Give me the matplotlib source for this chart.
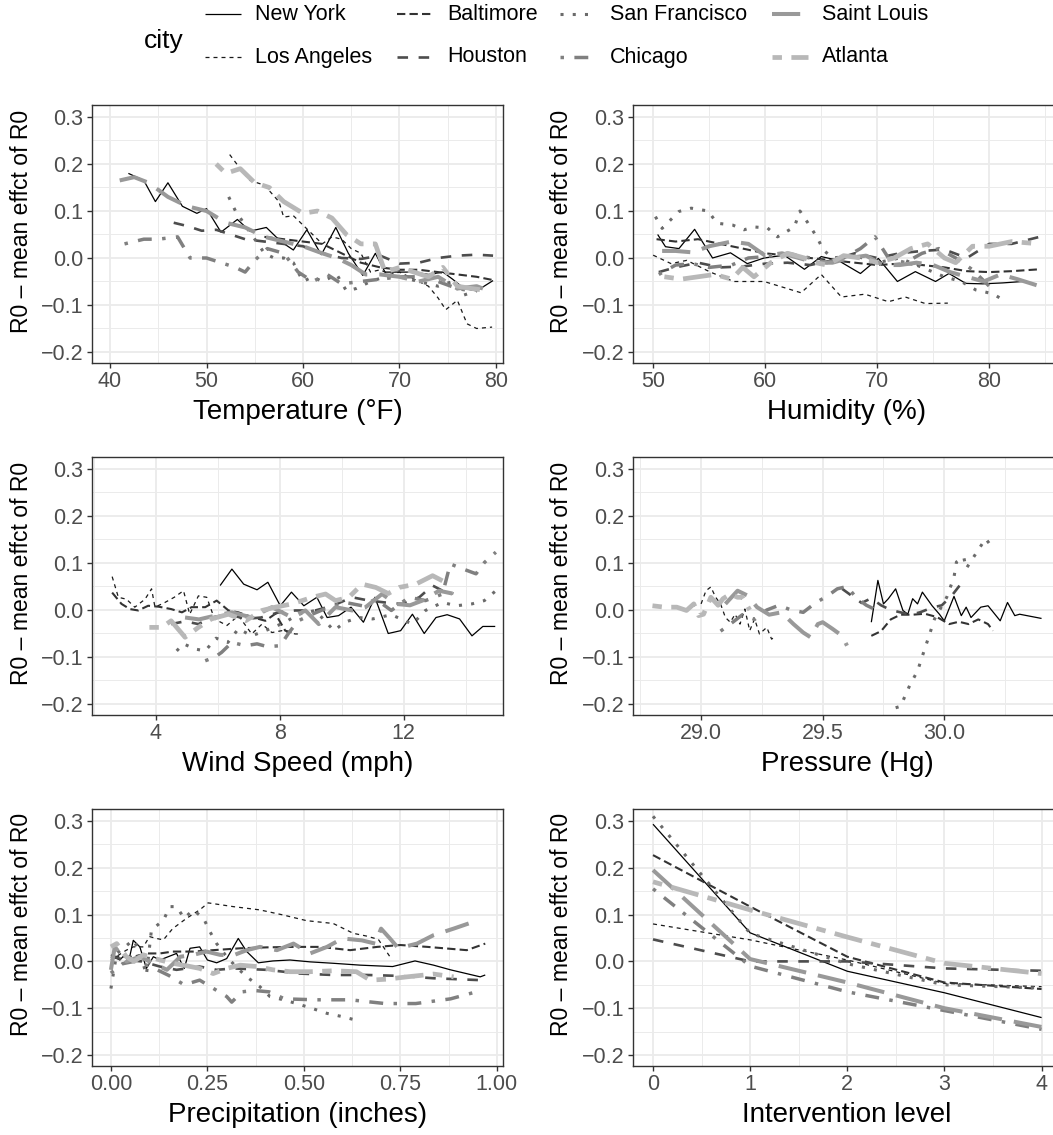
import matplotlib
matplotlib.use("Agg")
import matplotlib.pyplot as plt

plt.rcParams['font.family'] = ['Liberation Sans', 'DejaVu Sans']

# ---------------- data ----------------
cities = ["New York", "Los Angeles", "Baltimore", "Houston",
          "San Francisco", "Chicago", "Saint Louis", "Atlanta"]

# Temperature (°F)
temp_ny = [(41.9,0.18),(43.5,0.165),(44.7,0.12),(46.0,0.16),(47.5,0.11),(49.0,0.095),(50.0,0.105),(51.5,0.055),(53.2,0.082),(54.5,0.057),(56.2,0.065),(57.7,0.035),(59.0,0.017),(60.4,0.06),(61.9,0.007),(63.4,0.065),(64.7,0.01),(66.2,-0.037),(67.5,0.01),(68.5,-0.03),(70.0,-0.03),(71.5,-0.03),(73.0,-0.035),(74.5,-0.03),(75.5,-0.045),(76.7,-0.065),(78.0,-0.07),(79.7,-0.048)]
temp_la = [(52.4,0.22),(53.5,0.19),(54.5,0.165),(56.0,0.155),(57.5,0.12),(58.0,0.087),(59.0,0.09),(60.0,0.07),(61.0,0.05),(62.0,0.03),(63.0,0.045),(64.0,0.04),(65.0,0.02),(66.0,0.01),(67.0,-0.03),(68.0,-0.025),(69.0,-0.035),(70.0,-0.03),(71.0,-0.04),(72.0,-0.05),(73.0,-0.06),(74.0,-0.085),(74.8,-0.11),(76.0,-0.09),(77.0,-0.14),(78.0,-0.15),(79.6,-0.147)]
temp_baltimore = [(56.0,0.045),(58.0,0.04),(60.0,0.035),(62.0,0.03),(64.0,0.01),(66.0,-0.01),(68.0,-0.02),(70.0,-0.025),(72.0,-0.025),(74.0,-0.03),(76.0,-0.035),(78.0,-0.04),(79.7,-0.047)]
temp_houston = [(46.6,0.075),(48.0,0.068),(49.5,0.058),(51.0,0.06),(52.5,0.05),(54.0,0.04),(56.0,0.035),(58.0,0.03),(60.0,0.025),(62.0,0.01),(64.0,0.0),(66.0,-0.002),(68.0,0.005),(70.0,-0.012),(72.0,-0.01),(74.0,0.0),(76.0,0.005),(78.0,0.007),(79.7,0.005)]
temp_sf = [(52.3,0.13),(53.0,0.1),(54.0,0.07),(55.0,0.04),(56.0,0.01),(57.0,0.0),(58.0,0.0),(59.0,-0.01),(60.0,-0.05),(61.0,-0.04),(62.0,-0.05),(63.5,-0.035),(64.5,-0.07),(65.5,-0.065),(67.0,-0.05),(68.5,-0.04),(70.0,-0.04),(72.0,-0.05),(74.0,-0.06),(75.5,-0.05),(76.5,-0.08),(78.0,-0.07)]
temp_chicago = [(41.5,0.03),(43.5,0.04),(45.0,0.04),(47.0,0.045),(48.3,0.0),(50.0,0.0),(51.5,-0.01),(53.0,-0.02),(54.0,-0.03),(55.0,-0.005),(56.3,0.02),(58.0,0.01),(59.5,-0.03),(61.0,-0.05),(62.5,-0.035),(64.0,-0.055),(66.0,-0.05),(68.0,-0.045),(70.0,-0.04),(72.0,-0.04),(74.0,-0.05),(76.0,-0.065),(77.5,-0.07)]
temp_stl = [(41.0,0.165),(42.5,0.172),(44.0,0.16),(46.0,0.13),(48.0,0.11),(50.0,0.1),(52.0,0.075),(54.0,0.065),(56.0,0.045),(58.0,0.035),(60.0,0.025),(62.0,0.01),(63.5,0.0),(65.0,-0.015),(66.5,-0.035),(68.0,-0.035),(70.0,-0.04),(72.0,-0.05),(74.0,-0.04),(76.0,-0.065),(78.0,-0.06),(79.3,-0.07)]
temp_atlanta = [(51.0,0.2),(52.0,0.18),(53.5,0.19),(55.0,0.16),(56.5,0.15),(58.0,0.12),(60.0,0.095),(61.5,0.1),(63.0,0.085),(64.5,0.05),(66.0,0.03),(67.5,0.03),(68.5,-0.03),(70.0,-0.02),(71.5,-0.03),(73.0,-0.04),(74.5,-0.02),(76.0,-0.06),(77.5,-0.065),(79.3,-0.07)]

# Humidity (%)
hum_ny = [(50.4,0.05),(51.1,0.024),(52.3,0.02),(53.7,0.061),(55.3,0.0),(56.9,0.011),(58.4,-0.012),(59.9,0.0),(61.7,0.006),(63.5,-0.024),(65.0,0.003),(66.5,-0.005),(68.5,-0.033),(70.1,-0.001),(71.8,-0.05),(73.4,-0.029),(75.2,-0.05),(76.4,-0.033),(77.9,-0.054),(79.4,-0.055),(81.2,-0.053),(83.0,-0.05)]
hum_la = [(50.0,0.006),(51.6,-0.012),(53.0,-0.005),(55.1,-0.03),(57.2,-0.05),(59.9,-0.05),(63.2,-0.074),(65.0,-0.035),(66.8,-0.083),(68.9,-0.077),(71.0,-0.093),(72.5,-0.083),(74.3,-0.097),(76.3,-0.096)]
hum_baltimore = [(50.3,0.04),(52.0,0.035),(54.0,0.04),(56.0,0.03),(58.0,0.02),(60.0,0.01),(62.0,0.005),(64.0,0.0),(66.0,-0.005),(68.0,-0.01),(70.0,-0.015),(72.0,-0.012),(74.0,-0.015),(76.0,-0.02),(78.0,-0.028),(80.0,-0.03),(82.0,-0.028),(84.5,-0.024)]
hum_houston = [(50.5,-0.03),(52.0,-0.02),(54.0,-0.01),(56.0,-0.02),(58.0,-0.018),(60.0,-0.012),(62.0,-0.01),(64.0,-0.015),(66.0,-0.005),(68.0,0.01),(70.0,0.0),(72.0,0.01),(74.0,0.015),(76.0,0.018),(78.0,0.0),(80.0,0.03),(82.0,0.03),(84.5,0.045)]
hum_sf = [(50.2,0.088),(50.8,0.063),(52.3,0.099),(53.4,0.106),(54.9,0.1),(55.7,0.074),(57.1,0.07),(58.1,0.06),(59.0,0.066),(60.2,0.064),(61.1,0.045),(62.6,0.066),(63.1,0.1),(63.8,0.075),(64.6,0.045),(65.2,0.017),(66.0,0.0),(68.0,0.005),(70.0,-0.01),(72.0,0.0),(74.0,-0.02),(76.0,-0.04),(77.5,-0.05),(78.8,-0.068),(80.3,-0.076),(81.3,-0.09)]
hum_chicago = [(50.5,-0.035),(52.0,-0.015),(53.5,-0.012),(55.0,-0.02),(57.0,-0.015),(58.5,0.0),(60.0,0.003),(62.0,0.01),(64.0,0.0),(65.5,-0.01),(67.0,0.0),(68.5,0.02),(69.8,0.045),(71.0,0.0),(72.5,-0.01),(74.0,0.01),(75.5,0.02),(77.0,0.0),(78.5,-0.025),(80.0,-0.06)]
hum_stl = [(50.8,0.015),(52.0,0.015),(53.5,0.012),(55.0,0.025),(57.0,0.035),(58.5,0.03),(60.0,0.005),(61.5,0.01),(63.0,0.0),(64.5,-0.01),(66.0,-0.01),(67.5,0.0),(69.0,0.005),(70.5,-0.015),(72.0,-0.015),(73.5,-0.01),(75.0,-0.015),(76.5,-0.03),(78.0,-0.04),(79.5,-0.05),(81.0,-0.035),(82.5,-0.045),(84.5,-0.06)]
hum_atlanta = [(51.0,-0.04),(52.5,-0.045),(54.0,-0.04),(55.5,-0.035),(57.0,-0.045),(58.0,-0.02),(59.0,-0.04),(60.5,-0.01),(62.0,0.01),(63.5,0.0),(64.5,-0.01),(65.5,-0.015),(67.0,0.005),(68.5,0.0),(70.0,-0.01),(71.5,0.0),(73.0,0.02),(74.5,0.03),(76.0,0.0),(77.0,-0.01),(78.5,0.025),(80.0,0.025),(82.0,0.035),(84.5,0.03)]

# Wind Speed (mph)
wind_ny = [(6.08,0.052),(6.46,0.087),(6.84,0.055),(7.27,0.043),(7.62,0.059),(8.02,0.009),(8.38,0.038),(8.78,0.009),(9.2,0.027),(9.53,-0.016),(9.9,-0.012),(10.3,0.006),(10.7,-0.026),(11.07,0.027),(11.5,-0.05),(11.9,-0.044),(12.28,-0.009),(12.66,-0.05),(13.04,-0.016),(13.4,-0.01),(13.8,-0.019),(14.2,-0.055),(14.55,-0.035),(14.95,-0.035)]
wind_la = [(2.6,0.071),(2.8,0.027),(3.06,0.023),(3.33,0.006),(3.66,0.023),(3.87,0.045),(3.98,0.006),(4.3,0.016),(4.6,0.027),(4.9,0.041),(5.1,-0.009),(5.38,0.03),(5.65,0.027),(5.9,-0.019),(6.3,-0.033),(6.67,-0.012),(7.1,-0.051),(7.43,-0.03),(7.75,-0.048),(8.07,-0.044),(8.5,-0.051),(8.67,-0.051)]
wind_baltimore = [(2.6,0.037),(2.9,0.013),(3.17,0.002),(3.44,-0.001),(3.76,0.009),(4.1,0.007),(4.5,0.002),(4.85,-0.005),(5.16,0.006),(5.6,0.006),(5.97,0.02),(6.35,-0.001),(6.67,-0.005),(7.1,-0.015),(7.54,-0.023),(7.86,-0.008),(8.18,-0.044),(8.4,-0.048)]
wind_houston = [(4.5,-0.03),(4.95,-0.024),(5.38,-0.03),(5.8,-0.016),(6.35,-0.009),(6.9,-0.019),(7.4,-0.016),(7.97,-0.005),(8.5,-0.001),(9.15,-0.001),(9.7,0.009),(10.34,0.027),(10.88,0.02),(11.4,0.016),(11.96,0.013),(12.5,0.027),(12.93,0.052),(13.25,0.041),(13.6,0.035)]
wind_sf = [(4.68,-0.087),(4.9,-0.072),(5.27,-0.083),(5.6,-0.087),(5.95,-0.06),(6.33,-0.069),(6.67,-0.04),(7.1,-0.055),(7.54,-0.044),(8.18,-0.026),(8.6,-0.009),(9.15,-0.001),(9.75,-0.044),(10.1,-0.026),(10.55,-0.016),(11.0,-0.019),(11.6,-0.01),(12.28,-0.03),(12.7,-0.001),(13.25,0.016),(13.7,0.009),(14.2,0.013),(14.6,0.02),(14.97,0.041)]
wind_chicago = [(5.6,-0.108),(5.92,-0.1),(6.13,-0.09),(6.46,-0.069),(6.9,-0.076),(7.27,-0.072),(7.6,-0.078),(8.02,-0.076),(8.3,-0.048),(8.6,-0.023),(9.05,-0.009),(9.58,0.006),(10.12,0.016),(10.66,0.009),(11.1,0.023),(11.6,-0.001),(12.17,0.027),(12.7,0.02),(13.25,0.034),(13.5,0.098),(13.8,0.09),(14.33,0.077),(14.6,0.101),(14.97,0.123)]
wind_stl = [(4.95,-0.016),(5.4,-0.02),(5.92,-0.012),(6.46,-0.005),(7.1,-0.016),(7.75,0.006),(8.4,-0.016),(8.83,-0.001),(9.26,-0.03),(9.8,0.006),(10.34,-0.001),(10.77,0.006),(11.3,0.034),(11.74,0.013),(12.2,0.01),(12.6,0.02),(13.14,0.041),(13.57,0.035)]
wind_atlanta = [(3.8,-0.037),(4.2,-0.037),(4.5,-0.023),(4.95,-0.058),(5.38,-0.037),(5.8,-0.019),(6.35,-0.009),(6.9,-0.023),(7.43,-0.001),(7.86,0.006),(8.4,0.013),(9.05,0.027),(9.48,0.034),(9.8,0.02),(10.23,0.027),(10.66,0.055),(11.1,0.048),(11.5,0.035),(11.85,0.048),(12.39,0.055),(12.93,0.073),(13.25,0.062)]

# Pressure (Hg)
pres_ny = [(29.70,-0.026),(29.727,0.063),(29.75,0.013),(29.77,0.024),(29.80,0.045),(29.83,-0.001),(29.85,-0.009),(29.87,0.024),(29.89,0.013),(29.91,0.038),(29.95,0.009),(29.98,-0.009),(30.0,-0.023),(30.04,0.029),(30.07,-0.012),(30.09,0.006),(30.11,-0.016),(30.15,0.006),(30.18,0.009),(30.23,-0.023),(30.26,0.016),(30.29,-0.012),(30.31,-0.009),(30.34,-0.012),(30.40,-0.018)]
pres_la = [(29.0,0.013),(29.02,0.041),(29.04,0.049),(29.06,0.027),(29.08,0.013),(29.10,-0.016),(29.12,-0.026),(29.14,-0.009),(29.16,-0.03),(29.18,0.002),(29.20,-0.044),(29.22,-0.019),(29.24,-0.051),(29.27,-0.037),(29.29,-0.062),(29.30,-0.058)]
pres_baltimore = [(29.70,-0.055),(29.74,-0.045),(29.78,-0.02),(29.82,-0.01),(29.87,-0.01),(29.92,-0.008),(29.97,-0.015),(30.02,-0.03),(30.06,-0.025),(30.10,-0.03),(30.14,-0.02),(30.18,-0.03),(30.20,-0.044)]
pres_houston = [(29.58,0.045),(29.62,0.03),(29.66,0.015),(29.70,0.025),(29.74,0.01),(29.78,0.0),(29.82,-0.005),(29.86,-0.01),(29.90,-0.005),(29.95,0.005),(29.99,0.01),(30.03,0.03),(30.06,0.05),(30.09,0.066)]
pres_sf = [(29.80,-0.208),(29.82,-0.205),(29.86,-0.158),(29.89,-0.13),(29.91,-0.098),(29.94,-0.051),(29.96,-0.019),(29.98,-0.001),(30.01,0.027),(30.04,0.07),(30.05,0.102),(30.08,0.113),(30.09,0.088),(30.13,0.12),(30.17,0.152),(30.19,0.138)]
pres_chicago = [(29.08,-0.045),(29.12,-0.03),(29.17,-0.01),(29.22,-0.02),(29.27,0.0),(29.32,0.01),(29.37,0.0),(29.42,-0.005),(29.47,0.015),(29.52,0.03),(29.56,0.045),(29.60,0.05),(29.64,0.025),(29.68,0.01),(29.72,0.0)]
pres_stl = [(29.10,0.013),(29.15,0.041),(29.19,0.031),(29.23,0.006),(29.28,-0.01),(29.33,-0.005),(29.38,-0.03),(29.42,-0.048),(29.45,-0.058),(29.48,-0.03),(29.50,-0.026),(29.54,-0.04),(29.58,-0.055),(29.60,-0.076)]
pres_atlanta = [(28.80,0.009),(28.85,0.006),(28.90,0.006),(28.94,-0.001),(28.97,0.013),(28.99,-0.012),(29.01,-0.009),(29.04,0.027),(29.07,0.01),(29.09,0.024),(29.12,0.034),(29.15,0.027),(29.17,0.027),(29.20,0.0)]

# Precipitation (inches)
prec_ny = [(0.0,0.014),(0.023,0.003),(0.036,0.014),(0.046,0.0),(0.058,0.045),(0.075,0.031),(0.092,-0.015),(0.11,0.01),(0.127,0.003),(0.17,0.017),(0.19,-0.015),(0.205,0.028),(0.23,0.031),(0.25,0.003),(0.274,-0.003),(0.30,0.006),(0.33,0.049),(0.352,0.021),(0.382,-0.003),(0.42,0.001),(0.464,0.003),(0.516,-0.001),(0.576,-0.004),(0.646,-0.008),(0.73,-0.011),(0.788,0.001),(0.836,-0.008),(0.88,-0.018),(0.957,-0.033),(0.97,-0.029)]
prec_la = [(0.0,0.003),(0.04,0.024),(0.058,0.031),(0.084,0.031),(0.10,0.053),(0.118,0.049),(0.136,0.046),(0.16,0.07),(0.196,0.092),(0.23,0.11),(0.252,0.125),(0.317,0.117),(0.386,0.11),(0.447,0.099),(0.507,0.087),(0.576,0.081),(0.628,0.06),(0.663,0.054),(0.693,0.047),(0.723,0.01),(0.73,0.006)]
prec_baltimore = [(0.0,0.01),(0.058,0.01),(0.092,0.017),(0.127,0.017),(0.16,0.021),(0.213,0.021),(0.265,0.024),(0.335,0.028),(0.404,0.03),(0.473,0.031),(0.542,0.031),(0.62,0.024),(0.69,0.031),(0.75,0.035),(0.82,0.031),(0.922,0.024),(0.97,0.038)]
prec_houston = [(0.0,0.01),(0.04,0.003),(0.08,0.0),(0.127,-0.011),(0.17,-0.018),(0.23,-0.011),(0.274,-0.018),(0.317,-0.015),(0.404,-0.018),(0.49,-0.026),(0.576,-0.029),(0.663,-0.029),(0.75,-0.031),(0.836,-0.036),(0.957,-0.04)]
prec_sf = [(0.0,-0.058),(0.015,0.017),(0.035,0.03),(0.058,0.046),(0.075,0.02),(0.092,-0.029),(0.105,0.067),(0.136,0.088),(0.153,0.117),(0.17,0.117),(0.19,0.092),(0.213,0.11),(0.24,0.092),(0.257,0.063),(0.274,0.038),(0.30,0.01),(0.325,-0.012),(0.352,-0.033),(0.386,-0.054),(0.412,-0.075),(0.447,-0.082),(0.481,-0.09),(0.52,-0.1),(0.56,-0.111),(0.60,-0.118),(0.633,-0.125)]
prec_chicago = [(0.0,-0.025),(0.03,-0.005),(0.06,0.0),(0.10,-0.01),(0.15,-0.03),(0.19,-0.05),(0.23,-0.04),(0.27,-0.06),(0.30,-0.075),(0.313,-0.087),(0.34,-0.065),(0.37,-0.062),(0.41,-0.065),(0.45,-0.08),(0.53,-0.082),(0.62,-0.082),(0.71,-0.09),(0.79,-0.09),(0.88,-0.08),(0.96,-0.062)]
prec_stl = [(0.0,-0.018),(0.01,0.031),(0.04,0.0),(0.075,0.01),(0.11,-0.004),(0.145,-0.018),(0.18,0.01),(0.213,0.014),(0.248,0.021),(0.283,0.014),(0.317,0.013),(0.352,0.024),(0.386,0.031),(0.43,0.024),(0.473,0.038),(0.516,0.017),(0.56,0.031),(0.60,0.049),(0.65,0.045),(0.685,0.038),(0.70,0.07),(0.723,0.049),(0.745,0.028),(0.793,0.038),(0.836,0.056),(0.888,0.07),(0.927,0.081)]
prec_atlanta = [(0.0,0.031),(0.015,0.038),(0.04,0.01),(0.06,0.0),(0.084,0.014),(0.127,0.003),(0.16,-0.004),(0.20,-0.01),(0.23,-0.015),(0.265,-0.026),(0.30,-0.015),(0.335,-0.008),(0.378,-0.011),(0.42,-0.018),(0.464,-0.022),(0.516,-0.022),(0.576,-0.02),(0.636,-0.022),(0.672,-0.04),(0.715,-0.038),(0.767,-0.033),(0.836,-0.027),(0.888,-0.033)]

# Intervention level
int_ny = [(0,0.293),(1,0.061),(2,-0.021),(3,-0.067),(4,-0.12)]
int_la = [(0,0.08),(1,0.046),(2,0.003),(3,-0.047),(4,-0.054)]
int_baltimore = [(0,0.227),(1,0.117),(2,0.01),(3,-0.045),(4,-0.059)]
int_houston = [(0,0.047),(1,0.0),(2,0.0),(3,-0.015),(4,-0.02)]
int_sf = [(0,0.31),(1,0.06),(2,-0.005),(3,-0.05),(4,-0.057)]
int_chicago = [(0,0.155),(1,-0.01),(2,-0.065),(3,-0.105),(4,-0.145)]
int_stl = [(0,0.195),(1,0.005),(2,-0.045),(3,-0.1),(4,-0.14)]
int_atlanta = [(0,0.17),(1,0.11),(2,0.052),(3,-0.004),(4,-0.026)]

panel_labels = ["Temperature (°F)", "Humidity (%)", "Wind Speed (mph)",
                "Pressure (Hg)", "Precipitation (inches)", "Intervention level"]
panel_series = [
    [temp_ny, temp_la, temp_baltimore, temp_houston, temp_sf, temp_chicago, temp_stl, temp_atlanta],
    [hum_ny, hum_la, hum_baltimore, hum_houston, hum_sf, hum_chicago, hum_stl, hum_atlanta],
    [wind_ny, wind_la, wind_baltimore, wind_houston, wind_sf, wind_chicago, wind_stl, wind_atlanta],
    [pres_ny, pres_la, pres_baltimore, pres_houston, pres_sf, pres_chicago, pres_stl, pres_atlanta],
    [prec_ny, prec_la, prec_baltimore, prec_houston, prec_sf, prec_chicago, prec_stl, prec_atlanta],
    [int_ny, int_la, int_baltimore, int_houston, int_sf, int_chicago, int_stl, int_atlanta],
]
panel_xticks = [[40, 50, 60, 70, 80], [50, 60, 70, 80], [4, 8, 12],
                [29.0, 29.5, 30.0], [0.0, 0.25, 0.5, 0.75, 1.0], [0, 1, 2, 3, 4]]
panel_xticklabels = [["40", "50", "60", "70", "80"], ["50", "60", "70", "80"], ["4", "8", "12"],
                     ["29.0", "29.5", "30.0"], ["0.00", "0.25", "0.50", "0.75", "1.00"],
                     ["0", "1", "2", "3", "4"]]
panel_xminor = [[45, 55, 65, 75], [55, 65, 75, 85], [2, 6, 10, 14],
                [28.75, 29.25, 29.75, 30.25], [0.125, 0.375, 0.625, 0.875], [0.5, 1.5, 2.5, 3.5]]
panel_xlim = [(38.13, 80.73), (48.2, 86.4), (1.95, 15.2), (28.72, 30.48), (-0.049, 1.016), (-0.206, 4.2)]
yticks = [-0.2, -0.1, 0.0, 0.1, 0.2, 0.3]
ytick_labels = ["\u22120.2", "\u22120.1", "0.0", "0.1", "0.2", "0.3"]
yminor = [-0.15, -0.05, 0.05, 0.15, 0.25]
ylim = (-0.2234, 0.3255)
ylabel = "R0 \u2013 mean effct of R0"

# ---------------- style ----------------
city_grey = [0.0, 0.1, 0.2, 0.3, 0.42, 0.5, 0.6, 0.72]
city_lw = [0.9, 0.9, 1.5, 1.9, 2.2, 2.5, 2.9, 3.4]
city_dash = [None, (3.2, 3.2), (4, 2), (4, 4), (1, 3), (1, 3, 4, 3), (7, 3), (2, 2, 6, 2)]

W, H, DPI = 1053, 1135, 100
fig = plt.figure(figsize=(W / DPI, H / DPI), dpi=DPI)

col_x = [(92, 503), (633, 1061)]
row_y = [(105, 363), (457, 715), (809, 1066)]
ylabel_x = [22, 561]

def style_kwargs(i):
    kw = dict(color=str(city_grey[i]), lw=city_lw[i], solid_capstyle='butt',
              dash_capstyle='butt', solid_joinstyle='round', dash_joinstyle='round')
    if city_dash[i] is None:
        kw['linestyle'] = '-'
    else:
        kw['linestyle'] = (0, city_dash[i])
    return kw

for p in range(6):
    r, c = divmod(p, 2)
    x0, x1 = col_x[c]
    y0, y1 = row_y[r]
    ax = fig.add_axes([x0 / W, 1 - y1 / H, (x1 - x0) / W, (y1 - y0) / H])
    ax.set_facecolor('white')
    for i, series in enumerate(panel_series[p]):
        xs = [pt[0] for pt in series]
        ys = [pt[1] for pt in series]
        ax.plot(xs, ys, zorder=3 + i * 0.1, **style_kwargs(i))
    ax.set_xlim(*panel_xlim[p])
    ax.set_ylim(*ylim)
    ax.set_xticks(panel_xticks[p])
    ax.set_xticklabels(panel_xticklabels[p])
    ax.set_xticks(panel_xminor[p], minor=True)
    ax.set_yticks(yticks)
    ax.set_yticklabels(ytick_labels)
    ax.set_yticks(yminor, minor=True)
    ax.grid(True, which='major', color='#ebebeb', lw=1.3, zorder=0)
    ax.grid(True, which='minor', color='#ebebeb', lw=0.7, zorder=0)
    ax.set_axisbelow(True)
    for s in ax.spines.values():
        s.set_color('#333333')
        s.set_linewidth(1.0)
    ax.tick_params(which='major', length=3.6, width=1.0, color='#333333',
                   labelcolor='#4d4d4d', labelsize=15.5, pad=2.5)
    ax.tick_params(which='minor', length=0)
    ax.set_xlabel(panel_labels[p], fontsize=20, color='black')
    ax.xaxis.set_label_coords(0.5, -49.0 / (y1 - y0))
    ax.xaxis.label.set_va('center')
    ax.set_ylabel(ylabel, fontsize=16.5, color='black')
    ax.yaxis.set_label_coords((ylabel_x[c] - x0) / (x1 - x0), 0.5 + 13.0 / (y1 - y0))
    ax.yaxis.label.set_va('center')

# ---------------- legend ----------------
lax = fig.add_axes([0, 0, 1, 1], zorder=10)
lax.set_xlim(0, W)
lax.set_ylim(H, 0)
lax.axis('off')
lax.patch.set_alpha(0)
lax.text(164, 41, "city", fontsize=19, ha='center', va='center')
label_x = [255, 447, 610, 822]
row_cy = [14, 57]
for i, name in enumerate(cities):
    col, row = divmod(i, 2)
    lx = label_x[col]
    cy = row_cy[row]
    lax.plot([lx - 50, lx - 14], [cy, cy], **style_kwargs(i))
    lax.text(lx, cy, name, fontsize=15.5, ha='left', va='center')

fig.savefig("out.png", dpi=DPI)
